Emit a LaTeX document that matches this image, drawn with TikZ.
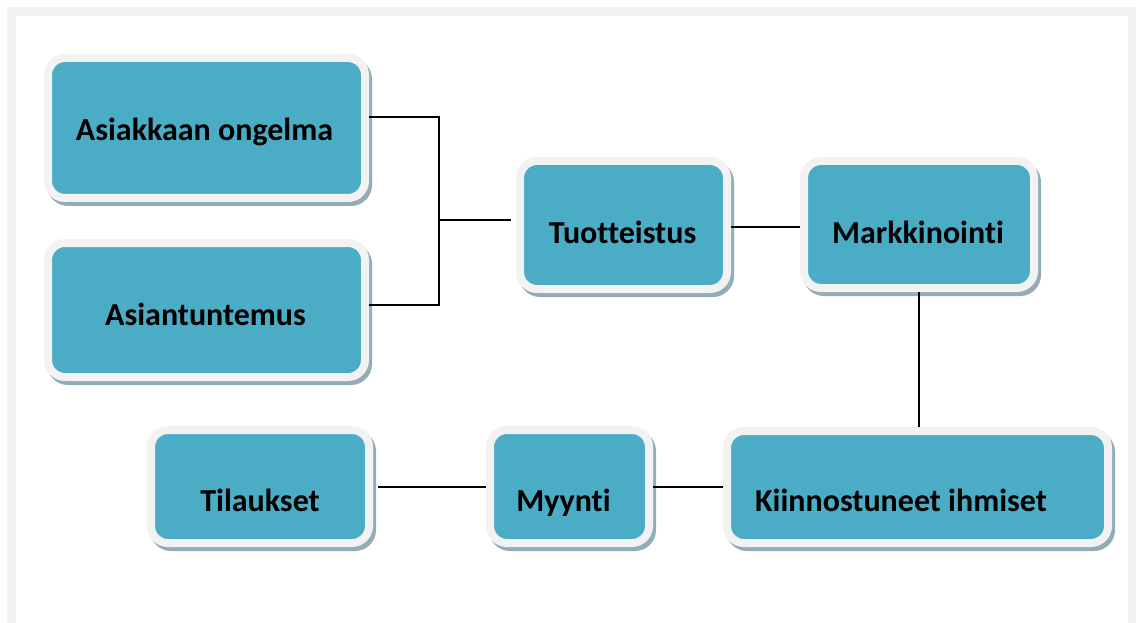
\documentclass[tikz,border=0pt]{standalone}
\usepackage{fontspec}
\setmainfont{Carlito}[Ligatures={NoCommon}]
\definecolor{boxfill}{HTML}{4BACC6}
\definecolor{boxedge}{HTML}{F2F2F2}
\definecolor{shadowc}{HTML}{93ADB8}
\definecolor{framec}{HTML}{F2F2F2}
% #1 horizontal shift, #2 raise of baseline from box centre, #3 text
\newcommand{\btext}[3]{\kern#1\relax\makebox[0pt]{\raisebox{#2}[0pt][0pt]{#3}}\kern-#1\relax}
\tikzset{
  box/.style={rectangle, rounded corners=17pt, fill=boxfill, draw=boxedge,
    line width=8pt, inner sep=0pt,
    font=\fontsize{32}{38}\selectfont\bfseries,
    preaction={fill=shadowc, draw=shadowc, line width=8pt,
      transform canvas={xshift=3pt, yshift=-4pt}}},
  conn/.style={draw=black, line width=2pt}
}
\begin{document}
\begin{tikzpicture}[x=1pt, y=-1pt]
\useasboundingbox (0,0) rectangle (1136,623);
\fill[framec] (7,7) rectangle (1136,623);
\fill[white] (16,16) rectangle (1128,623);

\node[box, minimum width=317pt, minimum height=140pt] (a1) at (206.5,128) {\btext{-2pt}{-12.5pt}{Asiakkaan ongelma}};
\node[box, minimum width=317pt, minimum height=134pt] (a2) at (206.5,310) {\btext{-1pt}{-15pt}{Asiantuntemus}};
\node[box, minimum width=207pt, minimum height=128pt] (tu) at (623.5,225) {\btext{-1pt}{-18.5pt}{Tuotteistus}};
\node[box, minimum width=230pt, minimum height=127pt] (ma) at (919,224.5) {\btext{-1pt}{-19pt}{Markkinointi}};
\node[box, minimum width=381pt, minimum height=112pt] (ki) at (917.5,487) {\btext{-16.5pt}{-24.5pt}{Kiinnostuneet ihmiset}};
\node[box, minimum width=159pt, minimum height=113pt] (my) at (569.5,486.5) {\btext{-6pt}{-25pt}{Myynti}};
\node[box, minimum width=218pt, minimum height=113pt] (ti) at (260,486.5) {\btext{0pt}{-25pt}{Tilaukset}};

\coordinate (j1) at (439,117);
\coordinate (j2) at (439,305);
\coordinate (jm) at (439,220);
\draw[conn] (a1.east |- j1) -- (j1) -- (j2) -- (a2.east |- j2);
\draw[conn] (jm) -- ([xshift=-5pt]tu.west |- jm);
\draw[conn] ([yshift=-2pt]tu.east) -- ([yshift=-2pt]tu.east -| ma.west);
\draw[conn] (ma.south) -- (ma.south |- ki.north);
\draw[conn] (ki.west |- my.east) -- (my.east);
\draw[conn] (my.west) -- ([xshift=5pt]my.west -| ti.east);
\end{tikzpicture}
\end{document}
